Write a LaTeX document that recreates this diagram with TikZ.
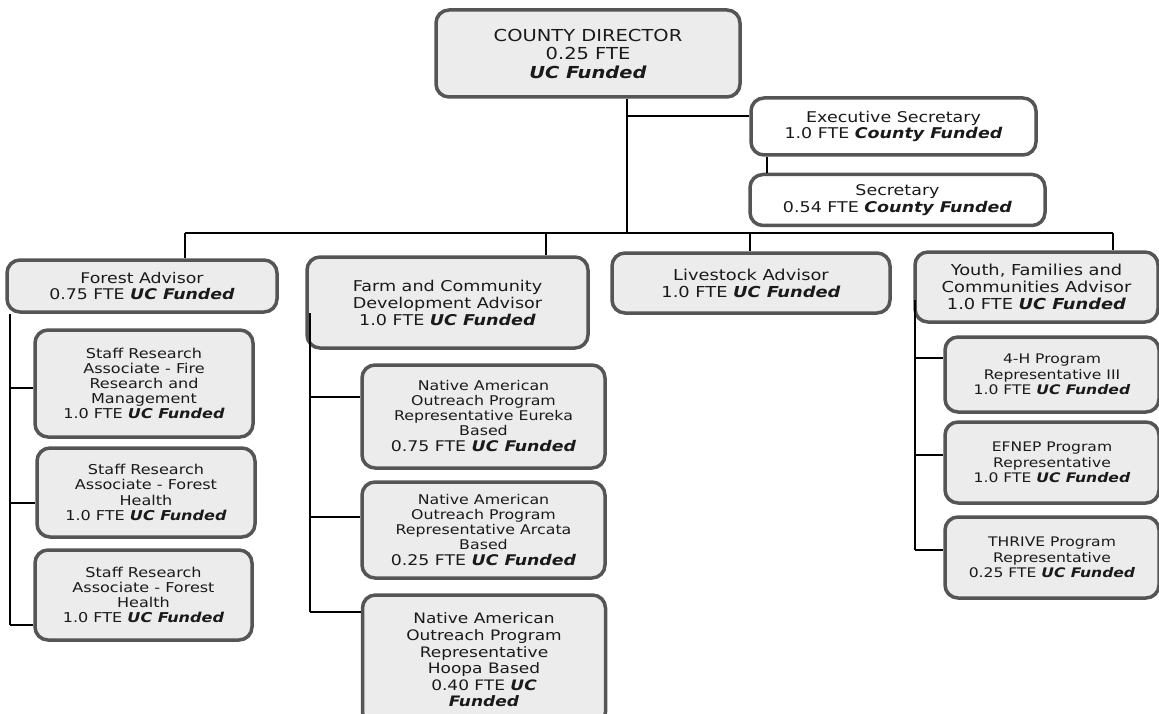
\documentclass[tikz,border=0pt]{standalone}
\usepackage{fontspec}
\setmainfont{DejaVu Sans}[FakeStretch=1.18]
\newcommand{\FF}[1]{\textbf{\textit{#1}}}
\newcommand{\fs}[2]{\fontsize{#1}{#2}\selectfont}
\definecolor{boxfill}{HTML}{ECECEC}
\definecolor{boxline}{HTML}{555555}
\definecolor{txt}{HTML}{1A1A1A}
\tikzset{
  box/.style={draw=boxline, line width=3.5pt, rounded corners=13pt, fill=boxfill,
    align=center, inner sep=0pt, text=txt},
  wbox/.style={box, fill=white},
  conn/.style={draw=black, line width=2pt},
}
\begin{document}
\begin{tikzpicture}[x=1pt,y=-1pt]
\useasboundingbox (0,0) rectangle (1159,714);
\fill[white] (0,0) rectangle (1159,714);

% top
\node[box, minimum width=304, minimum height=87, font=\fs{16.5}{18.5}] (dir) at (588,53.5)
  {COUNTY DIRECTOR\\0.25 FTE\\\FF{UC Funded}};
\node[wbox, minimum width=285, minimum height=57, font=\fs{14.8}{16.8}] (exec) at (893.5,126.5)
  {Executive Secretary\\1.0 FTE \FF{County Funded}};
\node[wbox, minimum width=295, minimum height=51, font=\fs{14.8}{16.8}] (sec) at (897.5,200)
  {Secretary\\0.54 FTE \FF{County Funded}};

% advisors
\node[box, minimum width=270, minimum height=52, font=\fs{14.7}{16.7}] (forest) at (142,286)
  {Forest Advisor\\0.75 FTE \FF{UC Funded}};
\node[box, minimum width=281, minimum height=91, font=\fs{14.9}{17}] (farm) at (447.5,302.5)
  {Farm and Community\\Development Advisor\\1.0 FTE \FF{UC Funded}};
\node[box, minimum width=278, minimum height=60, font=\fs{15.1}{16.8}] (live) at (751,283)
  {Livestock Advisor\\1.0 FTE \FF{UC Funded}};
\node[box, minimum width=243, minimum height=70, font=\fs{15.1}{16.8}] (youth) at (1036.5,287)
  {Youth, Families and\\Communities Advisor\\1.0 FTE \FF{UC Funded}};

% forest staff
\node[box, minimum width=218, minimum height=107, font=\fs{13.6}{15.2}] (s1) at (144,383.5)
  {Staff Research\\Associate - Fire\\Research and\\Management\\1.0 FTE \FF{UC Funded}};
\node[box, minimum width=218, minimum height=89, font=\fs{13.6}{15.2}] (s2) at (146,492.5)
  {Staff Research\\Associate - Forest\\Health\\1.0 FTE \FF{UC Funded}};
\node[box, minimum width=217, minimum height=90, font=\fs{13.6}{15.2}] (s3) at (143.5,595)
  {Staff Research\\Associate - Forest\\Health\\1.0 FTE \FF{UC Funded}};

% farm staff
\node[box, minimum width=243, minimum height=103, font=\fs{13.4}{15}] (na1) at (483.5,416.5)
  {Native American\\Outreach Program\\Representative Eureka\\Based\\[1pt]{\fs{14.7}{16}0.75 FTE \FF{UC Funded}}};
\node[box, minimum width=243, minimum height=96, font=\fs{13.4}{15}] (na2) at (483.5,530)
  {Native American\\Outreach Program\\Representative Arcata\\Based\\[1pt]{\fs{14.7}{16}0.25 FTE \FF{UC Funded}}};
\node[box, minimum width=243, minimum height=130, font=\fs{14.4}{16.6}] (na3) at (484,660)
  {Native American\\Outreach Program\\Representative\\Hoopa Based\\0.40 FTE \FF{UC}\\\FF{Funded}};

% youth staff
\node[box, minimum width=214, minimum height=75, font=\fs{13.2}{15.6}] (y1) at (1052,374.5)
  {4-H Program\\Representative III\\1.0 FTE \FF{UC Funded}};
\node[box, minimum width=214, minimum height=81, font=\fs{13.2}{15.6}] (y2) at (1052,462.5)
  {EFNEP Program\\Representative\\1.0 FTE \FF{UC Funded}};
\node[box, minimum width=214, minimum height=81, font=\fs{13.2}{15.6}] (y3) at (1052,557.5)
  {THRIVE Program\\Representative\\0.25 FTE \FF{UC Funded}};

% junction coordinates
\coordinate (dj) at (627,233);
\coordinate (ej) at (627,116);
\coordinate (xj) at (767,0);
\coordinate (busL) at (185,233);
\coordinate (busR) at (1113,233);
\coordinate (ft) at (10,0);
\coordinate (mt) at (310,0);
\coordinate (yt) at (915,0);

% connectors
\draw[conn] (dir.south -| dj) -- (dj);
\draw[conn] (ej) -- (exec.west |- ej);
\draw[conn] (exec.south -| xj) -- (sec.north -| xj);
\draw[conn] (busL) -- (busR);
\draw[conn] (busL) -- (forest.north -| busL);
\draw[conn] (546,233) -- (farm.north -| 546,0);
\draw[conn] (750,233) -- (live.north -| 750,0);
\draw[conn] (busR) -- (youth.north -| busR);

\draw[conn] (forest.south -| ft) -- (ft |- 0,625);
\draw[conn] (ft |- 0,388) -- (s1.west |- 0,388);
\draw[conn] (ft |- 0,503) -- (s2.west |- 0,503);
\draw[conn] (ft |- 0,625) -- (s3.west |- 0,625);

\draw[conn] (mt |- 0,313) -- (mt |- 0,612);
\draw[conn] (mt |- 0,397) -- (na1.west |- 0,397);
\draw[conn] (mt |- 0,517) -- (na2.west |- 0,517);
\draw[conn] (mt |- 0,612) -- (na3.west |- 0,612);

\draw[conn] (yt |- 0,300) -- (yt |- 0,550);
\draw[conn] (yt |- 0,358) -- (y1.west |- 0,358);
\draw[conn] (yt |- 0,455) -- (y2.west |- 0,455);
\draw[conn] (yt |- 0,550) -- (y3.west |- 0,550);
\end{tikzpicture}
\end{document}
